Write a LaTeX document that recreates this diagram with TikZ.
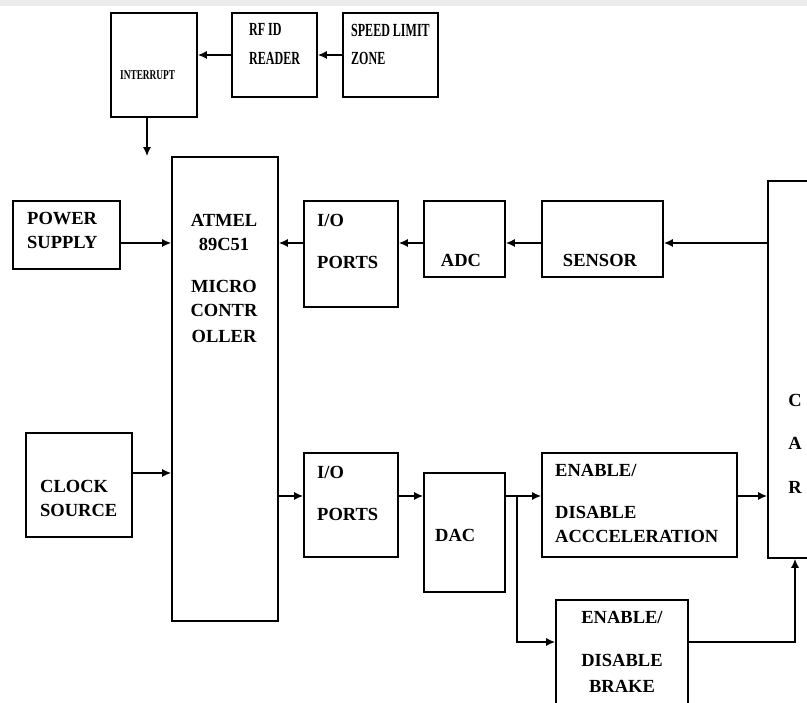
\documentclass[tikz,border=0pt]{standalone}
\usepackage{fontspec}
\setmainfont{Liberation Serif}
\usepackage{graphicx}
\usetikzlibrary{positioning,calc,arrows.meta}
\newcommand{\squeeze}[1]{\scalebox{0.65}[1]{#1}}

\tikzset{
  blk/.style={rectangle,draw,line width=1.6pt,inner sep=0pt},
  lbl/.style={inner sep=0pt,align=left,font=\fontsize{18.5}{24}\selectfont\bfseries},
  conn/.style={-{Latex[length=9pt,width=8pt]},line width=1.5pt},
}

\begin{document}
\begin{tikzpicture}[x=1pt,y=1pt]
\useasboundingbox (0,0) rectangle (807,703);
\clip (0,0) rectangle (807,703);
\fill[gray!15] (0,697) rectangle (807,703);

% top row
\node[blk,minimum width=86,minimum height=104] (intr) at (154,638) {};
\node[blk,minimum width=85,minimum height=84] (rfid) at (274.5,648) {};
\node[blk,minimum width=95,minimum height=84] (zone) at (390.5,648) {};
\node[lbl,anchor=north west,font=\fontsize{13.5}{16}\selectfont\bfseries] (intrtxt) at (120,632.5) {\scalebox{0.69}[1]{INTERRUPT}};
\node[lbl,anchor=north west] (rfidtxt) at (249,680) {\squeeze{RF ID}\\[5pt]\squeeze{READER}};
\node[lbl,anchor=north west] (zonetxt) at (351,679) {\squeeze{SPEED LIMIT}\\[4pt]\squeeze{ZONE}};

% controller and inputs
\node[blk,minimum width=106,minimum height=464] (mcu) at (225,314) {};
\node[blk,minimum width=107,minimum height=68] (pwr) at (66.5,468) {};
\node[blk,minimum width=106,minimum height=104] (clk) at (79,218) {};
\node[lbl,anchor=north,align=center] (mcutxt) at (224,489) {ATMEL\\89C51\\[18pt]MICRO\\CONTR\\[2pt]OLLER};
\node[lbl,anchor=north west] (pwrtxt) at (27,491) {POWER\\SUPPLY};
\node[lbl,anchor=north west] (clktxt) at (40,223) {CLOCK\\SOURCE};

% sensing chain
\node[blk,minimum width=94,minimum height=106] (ioa) at (351,449) {};
\node[blk,minimum width=81,minimum height=76] (adc) at (464.5,464) {};
\node[blk,minimum width=121,minimum height=76] (sensor) at (602.5,464) {};
\node[blk,minimum width=54,minimum height=377] (car) at (795,333.5) {};
\node[lbl,anchor=north west] (ioatxt) at (317,489) {I/O\\[18pt]PORTS};
\node[lbl,anchor=north] (adctxt) at (461,449) {ADC};
\node[lbl,anchor=north] (sensortxt) at (600,449) {SENSOR};
\node[lbl,anchor=north,align=center] (cartxt) at (795,309) {C\\[19pt]A\\[20pt]R};

% output chain
\node[blk,minimum width=94,minimum height=104] (iob) at (351,198) {};
\node[blk,minimum width=81,minimum height=119] (dac) at (464.5,170.5) {};
\node[blk,minimum width=195,minimum height=104] (acc) at (639.5,198) {};
\node[blk,minimum width=132,minimum height=120] (brk) at (622,43) {};
\node[lbl,anchor=north west] (iobtxt) at (317,237) {I/O\\[18pt]PORTS};
\node[lbl,anchor=north west] (dactxt) at (435,174) {DAC};
\node[lbl,anchor=north west] (acctxt) at (555,239) {ENABLE/\\[18pt]DISABLE\\ACCCELERATION};
\node[lbl,anchor=north,align=center] (brktxt) at (622,92) {ENABLE/\\[19pt]DISABLE\\[2pt]BRAKE};
\coordinate (split) at (517,207);

% connectors
\draw[conn] (rfid.west) -- (rfid.west -| intr.east);
\draw[conn] (zone.west) -- (rfid.east);
\draw[conn] ([xshift=-7pt]intr.south) -- ([xshift=-7pt]intr.south |- mcu.north);
\draw[conn] ([yshift=-8pt]pwr.east) -- ([yshift=-8pt]pwr.east -| mcu.west);
\draw[conn] ([yshift=11pt]ioa.west) -- ([yshift=11pt]ioa.west -| mcu.east);
\draw[conn] ([yshift=-4pt]adc.west) -- ([yshift=-4pt]adc.west -| ioa.east);
\draw[conn] ([yshift=-4pt]sensor.west) -- ([yshift=-4pt]adc.east);
\draw[conn] ([yshift=-4pt]sensor.east -| car.west) -- ([yshift=-4pt]sensor.east);
\draw[conn] ([yshift=12pt]clk.east) -- ([yshift=12pt]clk.east -| mcu.west);
\draw[conn] ([yshift=9pt]iob.west -| mcu.east) -- ([yshift=9pt]iob.west);
\draw[conn] ([yshift=9pt]iob.east) -- ([yshift=9pt]iob.east -| dac.west);
\draw[conn] ([yshift=9pt]acc.west -| dac.east) -- ([yshift=9pt]acc.west);
\draw[conn] (split) |- ([yshift=18pt]brk.west);
\draw[conn] ([yshift=9pt]acc.east) -- ([yshift=9pt]acc.east -| car.west);
\draw[conn] ([yshift=18pt]brk.east) -| (car.south);
\end{tikzpicture}
\end{document}
